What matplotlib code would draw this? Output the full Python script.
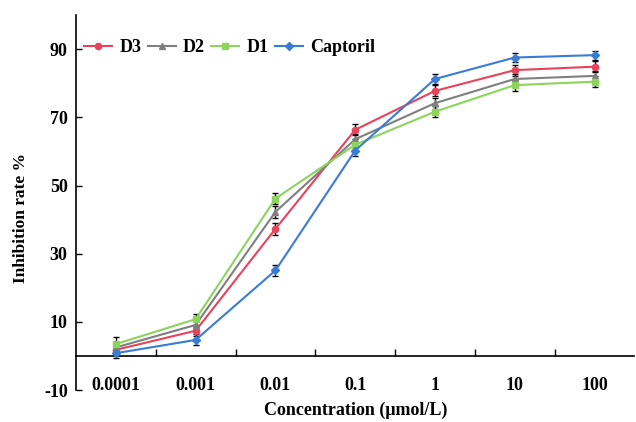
import matplotlib
matplotlib.use("Agg")
import matplotlib.pyplot as plt
import numpy as np

categories = ["0.0001", "0.001", "0.01", "0.1", "1", "10", "100"]
d3 = [1.8, 7.4, 37.3, 66.4, 77.8, 83.9, 84.9]
d2 = [2.5, 9.1, 42.3, 63.6, 74.2, 81.3, 82.2]
d1 = [3.5, 10.8, 46.2, 62.0, 71.7, 79.5, 80.5]
captoril = [0.8, 4.7, 25.1, 60.3, 81.3, 87.6, 88.3]
d3_err = [1.5, 1.5, 1.8, 1.6, 1.6, 1.6, 1.6]
d2_err = [1.5, 1.5, 1.8, 1.6, 1.6, 1.5, 1.5]
d1_err = [2.0, 1.6, 1.6, 1.6, 1.6, 1.6, 1.6]
captoril_err = [1.5, 1.6, 1.5, 1.5, 1.5, 1.3, 1.3]

series = [
    ("D3", d3, d3_err, "#E8435A", "o", 4.5),
    ("D2", d2, d2_err, "#7F7F7F", "^", 4.5),
    ("D1", d1, d1_err, "#8CD45C", "s", 4.0),
    ("Captoril", captoril, captoril_err, "#3A7BD5", "D", 3.8),
]

plt.rcParams['font.family'] = ['Liberation Serif', 'DejaVu Serif']
plt.rcParams['font.weight'] = 'bold'
plt.rcParams['axes.unicode_minus'] = False

fig = plt.figure(figsize=(6.36, 4.22), dpi=100)
ax = fig.add_axes([0.1195, 0.0758, 0.878, 0.888])

x = np.arange(len(categories))
for name, vals, err, col, mk, ms in series:
    ax.errorbar(x, vals, yerr=err, fmt='none', ecolor='black', elinewidth=1.0,
                capsize=2.5, capthick=1.0, zorder=2)
    ax.plot(x, vals, color=col, marker=mk, markersize=ms, linewidth=1.5,
            label=name, zorder=3)

ax.set_xlim(-0.5, len(categories) - 0.5)
ax.set_ylim(-10, 100)

ax.spines['top'].set_visible(False)
ax.spines['right'].set_visible(False)
ax.spines['bottom'].set_position(('data', 0))
ax.spines['left'].set_linewidth(1.2)
ax.spines['bottom'].set_linewidth(1.2)

ax.set_yticks([-10, 10, 30, 50, 70, 90])
ax.tick_params(axis='y', direction='in', length=4, width=1.0, labelsize=13, pad=6)
ax.set_xticks(x)
ax.set_xticklabels(categories)
ax.set_xticks(np.arange(0.5, len(categories) - 0.5, 1.0), minor=True)
ax.tick_params(axis='x', which='major', length=0, labelsize=13, pad=15)
ax.tick_params(axis='x', which='minor', direction='in', length=5, width=1.0)
for lbl in ax.get_xticklabels() + ax.get_yticklabels():
    lbl.set_fontweight('bold')

ax.set_xlabel("Concentration (\u03bcmol/L)", fontsize=13, fontweight='bold')
ax.xaxis.set_label_coords(0.5, -0.032)
ax.set_ylabel("Inhibition rate %", fontsize=12.5, fontweight='bold')
ax.yaxis.set_label_coords(-0.084, 0.46)

leg = ax.legend(loc='upper left', ncol=4, frameon=False, fontsize=13,
                bbox_to_anchor=(-0.005, 0.965), handlelength=1.55, handletextpad=0.4,
                columnspacing=0.35, borderaxespad=0.2)
for t in leg.get_texts():
    t.set_fontweight('bold')

fig.savefig("out.png", dpi=100)
